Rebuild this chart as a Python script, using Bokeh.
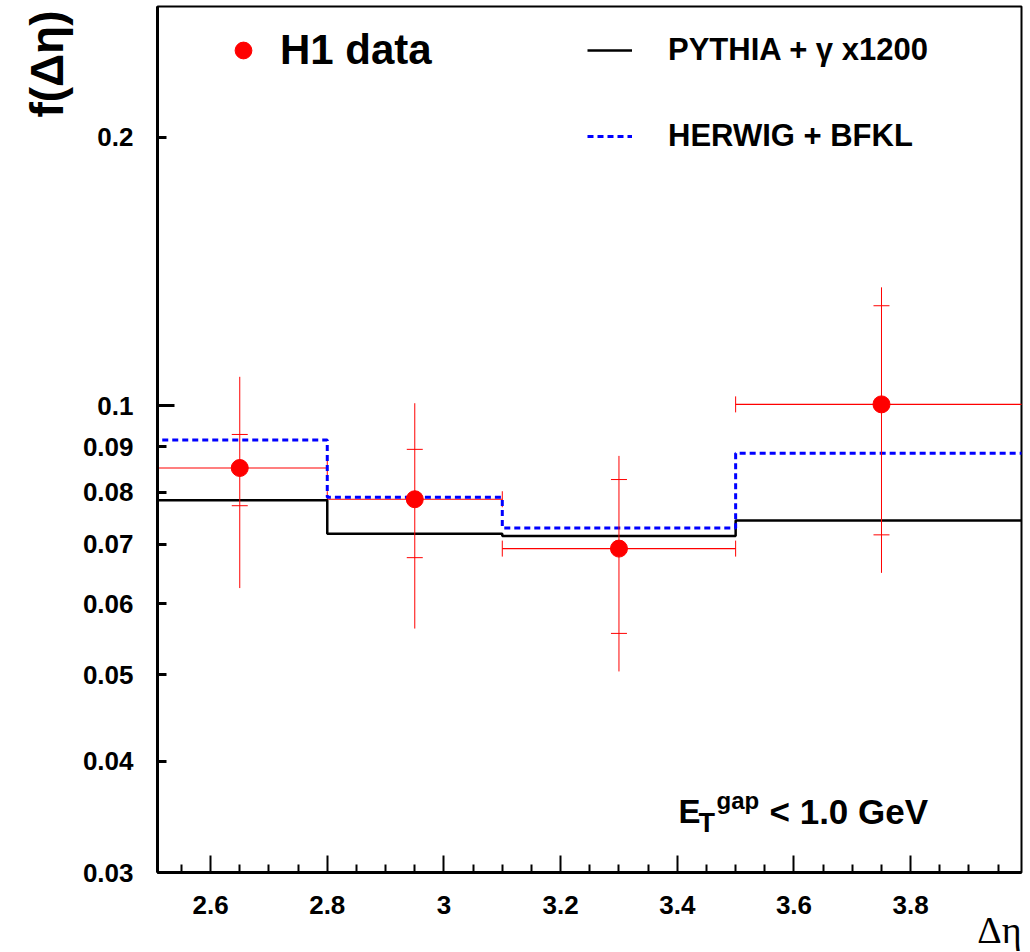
import math
from bokeh.plotting import figure
from bokeh.models import (FixedTicker, LogAxis, Whisker, TeeHead, ColumnDataSource,
                          Legend, LegendItem, Label, Range1d, Title)
from bokeh.embed import file_html
from bokeh.resources import INLINE

# ---------------- data ----------------
bin_edges = [2.5, 2.8, 3.1, 3.5, 4.0]
x_centers = [2.65, 2.95, 3.3, 3.75]
data_y = [0.0852, 0.0786, 0.0692, 0.1004]
stat_lo = [0.0773, 0.0676, 0.0556, 0.0717]
stat_hi = [0.0929, 0.0894, 0.0827, 0.1295]
tot_lo = [0.0625, 0.0563, 0.0504, 0.0650]
tot_hi = [0.1078, 0.1007, 0.0879, 0.1358]
pythia = [0.0784, 0.0719, 0.0715, 0.0744]
herwig = [0.0916, 0.0790, 0.0730, 0.0885]

x_ticks = [2.6, 2.8, 3.0, 3.2, 3.4, 3.6, 3.8]
x_tick_labels = ["2.6", "2.8", "3", "3.2", "3.4", "3.6", "3.8"]
y_ticks = [0.03, 0.04, 0.05, 0.06, 0.07, 0.08, 0.09, 0.1, 0.2]
y_tick_labels = ["0.03", "0.04", "0.05", "0.06", "0.07", "0.08", "0.09", "0.1", "0.2"]

X_START, X_END = 2.509, 3.990
Y_START, Y_END = 0.03, 0.2803

W, H = 1030, 952
FL, FR, FT, FB = 157, 1021, 6, 872   # frame edges (canvas px)

p = figure(width=W, height=H, y_axis_type="log", output_backend="svg",
           toolbar_location=None,
           x_range=Range1d(X_START, X_END), y_range=Range1d(Y_START, Y_END),
           min_border_left=FL, min_border_right=W - FR,
           min_border_top=FT, min_border_bottom=H - FB)
p.xgrid.visible = False
p.ygrid.visible = False
p.outline_line_color = "black"
p.outline_line_width = 2
p.background_fill_color = "white"
p.border_fill_color = "white"

FONT = "Liberation Sans"
SERIF = "Liberation Serif"

# ---------- x axis ----------
minor_x = [round(2.55 + 0.05 * i, 2) for i in range(29)]
minor_x = [m for m in minor_x if all(abs(m - t) > 1e-6 for t in x_ticks)]
xa = p.xaxis[0]
xa.ticker = FixedTicker(ticks=x_ticks, minor_ticks=minor_x)
xa.major_label_overrides = {t: l for t, l in zip(x_ticks, x_tick_labels)}
xa.major_tick_in = 17
xa.major_tick_out = 0
xa.minor_tick_in = 8
xa.minor_tick_out = 0
xa.major_tick_line_width = 2
xa.minor_tick_line_width = 2
xa.axis_line_width = 3
xa.major_label_text_font = FONT
xa.major_label_text_font_style = "bold"
xa.major_label_text_font_size = "26px"
xa.major_label_text_color = "black"
xa.major_label_standoff = 23

# ---------- y axis ----------
ya = p.yaxis[0]
ya.ticker = FixedTicker(ticks=y_ticks, minor_ticks=[])
ya.major_label_overrides = {t: l for t, l in zip(y_ticks, y_tick_labels)}
ya.major_tick_in = 9
ya.major_tick_out = 0
ya.minor_tick_line_color = None
ya.major_tick_line_width = 3
ya.axis_line_width = 3
ya.major_label_text_font = FONT
ya.major_label_text_font_style = "bold"
ya.major_label_text_font_size = "26px"
ya.major_label_text_color = "black"
ya.major_label_standoff = 24

# longer tick at 0.1
long_ax = LogAxis(ticker=FixedTicker(ticks=[0.1], minor_ticks=[]), fixed_location=X_START,
                  major_tick_in=17, major_tick_out=0, major_tick_line_width=3,
                  axis_line_color=None, minor_tick_line_color=None,
                  major_label_overrides={0.1: ""}, major_label_text_font_size="0px")
p.add_layout(long_ax, "left")

# axis titles as side-panel titles (right/top aligned like the reference)
p.add_layout(Title(text="f(Δη)", align="right", text_font=FONT, text_font_style="bold",
                   text_font_size="46px", text_color="black", standoff=13, offset=4), "left")
p.add_layout(Title(text="Δη", align="right", text_font=SERIF, text_font_style="normal",
                   text_font_size="38px", text_color="black", standoff=-20, offset=0), "below")

# ---------- histograms ----------
r_py = p.step(x=bin_edges, y=pythia + [pythia[-1]], mode="after",
              line_color="black", line_width=2.5)
r_hw = p.step(x=bin_edges, y=herwig + [herwig[-1]], mode="after",
              line_color="#0000ff", line_width=3, line_dash="6 4")

# ---------- data with error bars ----------
src = ColumnDataSource(dict(x=x_centers, y=data_y, slo=stat_lo, shi=stat_hi,
                            tlo=tot_lo, thi=tot_hi,
                            xlo=bin_edges[:-1], xhi=bin_edges[1:]))
p.segment(x0="x", y0="tlo", x1="x", y1="thi", source=src, line_color="#ff0000", line_width=1)
p.add_layout(Whisker(source=src, base="y", lower="xlo", upper="xhi", dimension="width",
                     line_color="#ff0000", line_width=1.2,
                     lower_head=TeeHead(size=16, line_color="#ff0000", line_width=1),
                     upper_head=TeeHead(size=16, line_color="#ff0000", line_width=1)))
p.add_layout(Whisker(source=src, base="x", lower="slo", upper="shi", dimension="height",
                     line_alpha=0,
                     lower_head=TeeHead(size=16, line_color="#ff0000", line_width=1),
                     upper_head=TeeHead(size=16, line_color="#ff0000", line_width=1)))
r_data = p.scatter(x="x", y="y", source=src, size=17, marker="circle",
                   fill_color="#ff0000", line_color="#ff0000")

# ---------- legends ----------
leg1 = Legend(items=[LegendItem(label="H1 data", renderers=[r_data])],
              location=(65, FB - 75), padding=0, margin=0, spacing=0,
              glyph_width=42, glyph_height=50, label_standoff=16,
              border_line_color=None, background_fill_alpha=0,
              label_text_font=FONT, label_text_font_style="bold",
              label_text_font_size="42px", label_text_color="black")
leg2 = Legend(items=[LegendItem(label="PYTHIA + γ x1200", renderers=[r_py]),
                     LegendItem(label="HERWIG + BFKL", renderers=[r_hw])],
              location=(430, FB - 156), padding=0, margin=0, spacing=46,
              glyph_width=45, glyph_height=40, label_standoff=36,
              border_line_color=None, background_fill_alpha=0,
              label_text_font=FONT, label_text_font_style="bold",
              label_text_font_size="31px", label_text_color="black")
p.add_layout(leg1)
p.add_layout(leg2)


def lab(text, cx, cy, size, font=FONT, style="bold", align="left"):
    p.add_layout(Label(x=cx - FL, y=FB - cy, x_units="screen", y_units="screen", text=text,
                       text_font=font, text_font_style=style, text_font_size=f"{size}px",
                       text_color="black", text_align=align, text_baseline="alphabetic"))


# ---------- annotation E_T^gap ----------
lab("E", 678, 811, 33)
lab("T", 698, 822, 27)
lab("gap", 716, 800, 24)
lab("< 1.0 GeV", 769, 811, 35)

open("out.html", "w").write(file_html(p, INLINE))
